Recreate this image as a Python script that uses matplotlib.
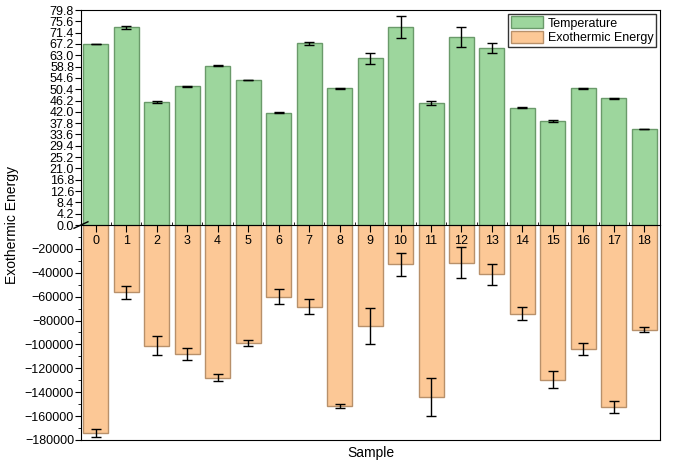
import numpy as np
import matplotlib
matplotlib.use('Agg')
import matplotlib.pyplot as plt
from matplotlib.ticker import MultipleLocator, FixedLocator

plt.rcParams['font.family'] = ['Liberation Sans', 'DejaVu Sans']

samples = list(range(19))
temperature = [67.1, 73.4, 45.5, 51.5, 59.1, 53.7, 41.7, 67.4, 50.7, 61.9,
               73.4, 45.2, 69.7, 65.6, 43.6, 38.5, 50.7, 47.0, 35.6]
temp_err = [0.05, 0.6, 0.4, 0.2, 0.2, 0.05, 0.2, 0.7, 0.2, 2.0,
            4.0, 0.8, 3.7, 1.9, 0.1, 0.3, 0.3, 0.05, 0.1]
energy = [-174000, -56500, -101000, -107800, -127900, -98500, -59900, -68300,
          -151500, -84300, -33000, -143900, -31400, -41400, -74200, -129600,
          -103600, -152300, -87600]
energy_err = [3400, 5300, 8000, 5000, 2900, 2500, 6200, 6200, 1500, 15100,
              9700, 16000, 12600, 8800, 5700, 7000, 4900, 5300, 2000]

green = '#9dd69d'
green_edge = '#6a9a6a'
orange = '#fcc896'
orange_edge = '#b8906a'

fig = plt.figure(figsize=(6.76, 4.61), dpi=100)
left, right = 0.1198, 0.9763
mid, top, bot = 0.5119, 0.9783, 0.0456
ax1 = fig.add_axes([left, mid, right - left, top - mid])
ax2 = fig.add_axes([left, bot, right - left, mid - bot], sharex=ax1)

x = np.array(samples)
w = 0.82
ax1.bar(x, temperature, w, color=green, edgecolor=green_edge, linewidth=1,
        label='Temperature')
ax1.errorbar(x, temperature, yerr=temp_err, fmt='none', ecolor='black',
             elinewidth=1, capsize=3.5, capthick=1)
ax2.bar(x, energy, w, color=orange, edgecolor=orange_edge, linewidth=1,
        label='Exothermic Energy')
ax2.errorbar(x, energy, yerr=energy_err, fmt='none', ecolor='black',
             elinewidth=1, capsize=3.5, capthick=1)

ax1.set_xlim(-0.48, 18.51)
ax1.set_ylim(0, 79.8)
ax2.set_ylim(-180000, 0)

# top panel
ax1.yaxis.set_major_locator(FixedLocator(np.round(np.arange(0, 80, 4.2), 1)))
ax1.set_yticklabels([f'{v:.1f}' for v in np.arange(0, 80, 4.2)])
ax1.tick_params(axis='y', direction='out', length=4, labelsize=9, pad=1)
ax1.tick_params(axis='x', bottom=False, labelbottom=False)
ax1.spines['bottom'].set_visible(False)

# bottom panel
ax2.yaxis.set_major_locator(FixedLocator(np.arange(-180000, 0, 20000)))
ax2.yaxis.set_minor_locator(MultipleLocator(10000))
ax2.tick_params(axis='y', which='major', direction='out', length=4,
                labelsize=9, pad=1)
ax2.tick_params(axis='y', which='minor', direction='out', length=2.5)
ax2.xaxis.set_major_locator(FixedLocator(samples))
ax2.xaxis.set_minor_locator(FixedLocator(np.arange(-0.5, 19, 1)))
ax2.tick_params(axis='x', which='major', bottom=False, labelbottom=False,
                top=True, labeltop=True, direction='in', length=5,
                labelsize=9, pad=-16)
ax2.tick_params(axis='x', which='minor', bottom=False, top=True,
                direction='out', length=2)
ax2.spines['top'].set_zorder(5)

# axis break mark
ax2.plot([-0.012, 0.012], [0.985, 1.015], transform=ax2.transAxes,
         color='black', lw=1, clip_on=False)

fig.text(0.018, mid, 'Exothermic Energy', rotation=90, va='center',
         ha='center', fontsize=10)
fig.text((left + right) / 2, 0.018, 'Sample', ha='center', va='center',
         fontsize=10)

h1, l1 = ax1.get_legend_handles_labels()
h2, l2 = ax2.get_legend_handles_labels()
ax1.legend(h1 + h2, l1 + l2, loc='upper right', fontsize=9, frameon=True,
           fancybox=False, edgecolor='black', borderpad=0.2,
           handlelength=2.6, handleheight=1.1, handletextpad=0.4,
           labelspacing=0.1, borderaxespad=0.3).get_frame().set_linewidth(1)

fig.savefig('out.png', dpi=100)
